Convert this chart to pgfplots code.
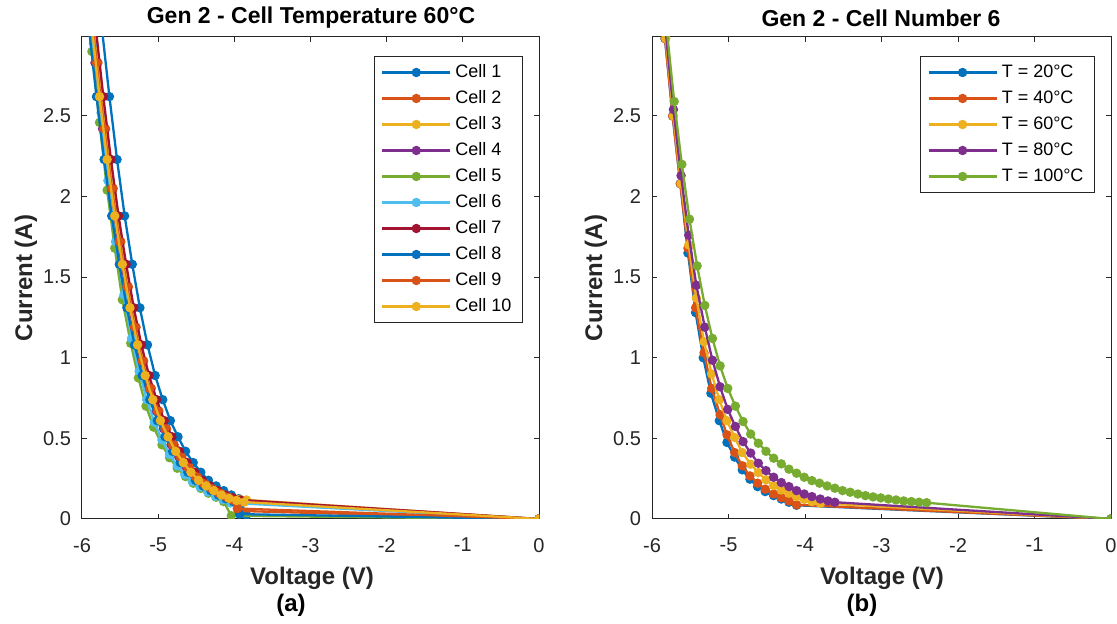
\documentclass[border=0pt]{standalone}
\usepackage{pgfplots}
\pgfplotsset{compat=1.18}
\usepackage{fontspec}
\setmainfont{Liberation Sans}

% MATLAB default line colours
\definecolor{c1}{rgb}{0,0.447,0.741}
\definecolor{c2}{rgb}{0.85,0.325,0.098}
\definecolor{c3}{rgb}{0.929,0.694,0.125}
\definecolor{c4}{rgb}{0.494,0.184,0.556}
\definecolor{c5}{rgb}{0.466,0.674,0.188}
\definecolor{c6}{rgb}{0.301,0.745,0.933}
\definecolor{c7}{rgb}{0.635,0.078,0.184}
\definecolor{axgray}{rgb}{0.15,0.15,0.15}

\pgfplotsset{
  ivaxis/.style={
    scale only axis, width=228.5pt, height=241pt,
    xmin=-6, xmax=0, ymin=0, ymax=2.99,
    xtick={-6,-5,-4,-3,-2,-1,0}, ytick={0,0.5,1,1.5,2,2.5},
    tick align=inside, major tick length=2.5pt,
    axis line style={axgray, line width=0.5pt},
    every tick/.style={axgray, line width=0.5pt},
    tick label style={font=\fontsize{10}{11}\selectfont, text=axgray},
    xticklabel style={yshift=-6pt},
    yticklabel style={xshift=-2pt},
    /pgf/number format/assume math mode=true,
    clip marker paths=true,
    every axis plot/.append style={line width=1.15pt, mark=*, mark size=1.75pt, mark options={solid}},
    legend style={font=\fontsize{9}{10}\selectfont, draw=axgray, line width=0.5pt,
      at={(1,1)}, anchor=north east, xshift=-8pt, yshift=-9.5pt,
      inner xsep=3.5pt, inner ysep=1.5pt, row sep=0pt,
      nodes={inner sep=2pt, text height=7pt, text depth=2pt}},
    legend cell align=left,
    legend image code/.code={\draw[mark repeat=2,mark phase=2,##1] plot coordinates {(0pt,0pt) (17pt,0pt) (34pt,0pt)};},
  }
}

\begin{document}
\begin{tikzpicture}
\path[use as bounding box] (-41pt,-52.5pt) rectangle (517.5pt,259.5pt);

% (a) ten cells at 60 C
\begin{axis}[ivaxis, at={(0pt,0pt)}, anchor=south west]
\addplot[c1] coordinates {(-5.84,3.50)(-5.74,3.05)(-5.64,2.62)(-5.54,2.23)(-5.44,1.88)(-5.34,1.58)(-5.24,1.31)(-5.14,1.08)(-5.04,0.89)(-4.94,0.74)(-4.84,0.61)(-4.74,0.51)(-4.64,0.42)(-4.54,0.35)(-4.44,0.29)(-4.34,0.24)(-4.24,0.205)(-4.14,0.176)(-4.04,0.149)(-3.94,0.126)(-3.84,0.025)(0,0)};
\addlegendentry{Cell 1}
\addplot[c2] coordinates {(-5.99,3.75)(-5.89,3.27)(-5.79,2.83)(-5.69,2.42)(-5.59,2.05)(-5.49,1.72)(-5.39,1.44)(-5.29,1.19)(-5.19,0.98)(-5.09,0.81)(-4.99,0.67)(-4.89,0.56)(-4.79,0.46)(-4.69,0.385)(-4.59,0.32)(-4.49,0.264)(-4.39,0.222)(-4.29,0.19)(-4.19,0.162)(-4.09,0.137)(-3.99,0.116)(-3.95,0.05)(0,0)};
\addlegendentry{Cell 2}
\addplot[c3] coordinates {(-5.93,3.50)(-5.83,3.05)(-5.73,2.62)(-5.63,2.23)(-5.53,1.88)(-5.43,1.58)(-5.33,1.31)(-5.23,1.08)(-5.13,0.89)(-5.03,0.74)(-4.93,0.61)(-4.83,0.51)(-4.73,0.42)(-4.63,0.35)(-4.53,0.29)(-4.43,0.24)(-4.33,0.205)(-4.23,0.176)(-4.13,0.149)(-4.03,0.130)(-3.93,0.122)(-3.84,0.118)(0,0)};
\addlegendentry{Cell 3}
\addplot[c4] coordinates {(-6.03,3.75)(-5.93,3.27)(-5.83,2.83)(-5.73,2.42)(-5.63,2.05)(-5.53,1.72)(-5.43,1.44)(-5.33,1.19)(-5.23,0.98)(-5.13,0.81)(-5.03,0.67)(-4.93,0.56)(-4.83,0.46)(-4.73,0.385)(-4.63,0.32)(-4.53,0.264)(-4.43,0.222)(-4.33,0.19)(-4.23,0.162)(-4.13,0.137)(-4.03,0.116)(0,0)};
\addlegendentry{Cell 4}
\addplot[c5] coordinates {(-5.97,3.40)(-5.87,2.90)(-5.77,2.46)(-5.67,2.04)(-5.57,1.68)(-5.47,1.36)(-5.36,1.09)(-5.26,0.875)(-5.16,0.70)(-5.06,0.57)(-4.95,0.46)(-4.85,0.38)(-4.75,0.315)(-4.64,0.263)(-4.54,0.222)(-4.44,0.19)(-4.34,0.16)(-4.24,0.135)(-4.14,0.108)(-4.04,0.02)(0,0)};
\addlegendentry{Cell 5}
\addplot[c6] coordinates {(-5.95,3.40)(-5.85,2.95)(-5.75,2.52)(-5.66,2.10)(-5.56,1.72)(-5.45,1.39)(-5.35,1.12)(-5.25,0.916)(-5.15,0.74)(-5.05,0.60)(-4.95,0.49)(-4.85,0.40)(-4.75,0.33)(-4.65,0.275)(-4.55,0.232)(-4.45,0.198)(-4.35,0.168)(-4.25,0.142)(-4.15,0.12)(-4.05,0.10)(0,0)};
\addlegendentry{Cell 6}
\addplot[c7] coordinates {(-5.92,3.50)(-5.82,3.05)(-5.72,2.62)(-5.62,2.23)(-5.52,1.88)(-5.42,1.58)(-5.32,1.31)(-5.22,1.08)(-5.12,0.89)(-5.02,0.74)(-4.92,0.61)(-4.82,0.51)(-4.72,0.42)(-4.62,0.35)(-4.52,0.29)(-4.42,0.24)(-4.32,0.205)(-4.22,0.176)(-4.12,0.149)(-4.02,0.132)(-3.92,0.118)(0,0)};
\addlegendentry{Cell 7}
\addplot[c1] coordinates {(-6.01,3.50)(-5.91,3.05)(-5.81,2.62)(-5.71,2.23)(-5.61,1.88)(-5.51,1.58)(-5.41,1.31)(-5.31,1.08)(-5.21,0.89)(-5.11,0.74)(-5.01,0.61)(-4.91,0.51)(-4.81,0.42)(-4.71,0.35)(-4.61,0.29)(-4.51,0.24)(-4.41,0.205)(-4.31,0.176)(-4.21,0.149)(-4.11,0.126)(-4.01,0.108)(-3.93,0.03)(0,0)};
\addlegendentry{Cell 8}
\addplot[c2] coordinates {(-6.01,3.75)(-5.91,3.27)(-5.81,2.83)(-5.71,2.42)(-5.61,2.05)(-5.51,1.72)(-5.41,1.44)(-5.31,1.19)(-5.21,0.98)(-5.11,0.81)(-5.01,0.67)(-4.91,0.56)(-4.81,0.46)(-4.71,0.385)(-4.61,0.32)(-4.51,0.264)(-4.41,0.222)(-4.31,0.19)(-4.21,0.162)(-4.11,0.137)(-4.01,0.116)(-3.96,0.065)(0,0)};
\addlegendentry{Cell 9}
\addplot[c3] coordinates {(-5.97,3.50)(-5.87,3.05)(-5.77,2.62)(-5.67,2.23)(-5.57,1.88)(-5.47,1.58)(-5.37,1.31)(-5.27,1.08)(-5.17,0.89)(-5.07,0.74)(-4.97,0.61)(-4.87,0.51)(-4.77,0.42)(-4.67,0.35)(-4.57,0.29)(-4.47,0.24)(-4.37,0.205)(-4.27,0.176)(-4.17,0.149)(-4.07,0.128)(-3.97,0.115)(-3.87,0.105)(0,0)};
\addlegendentry{Cell 10}
\end{axis}

% (b) cell 6 at five temperatures
\begin{axis}[ivaxis, at={(285pt,0pt)}, anchor=south west, width=229.5pt]
\addplot[c1] coordinates {(-5.93,3.50)(-5.83,2.98)(-5.73,2.50)(-5.63,2.08)(-5.53,1.65)(-5.43,1.28)(-5.33,1.00)(-5.23,0.78)(-5.12,0.61)(-5.02,0.475)(-4.92,0.384)(-4.82,0.305)(-4.72,0.247)(-4.62,0.201)(-4.52,0.17)(-4.41,0.145)(-4.31,0.124)(-4.21,0.104)(-4.11,0.085)(0,0)};
\addlegendentry{T = 20°C}
\addplot[c2] coordinates {(-5.93,3.50)(-5.83,2.98)(-5.73,2.50)(-5.63,2.08)(-5.53,1.68)(-5.43,1.31)(-5.32,1.03)(-5.22,0.81)(-5.11,0.647)(-5.02,0.522)(-4.92,0.412)(-4.82,0.33)(-4.72,0.267)(-4.62,0.222)(-4.52,0.185)(-4.41,0.155)(-4.31,0.132)(-4.21,0.112)(-4.11,0.088)(0,0)};
\addlegendentry{T = 40°C}
\addplot[c3] coordinates {(-5.93,3.50)(-5.82,2.98)(-5.72,2.50)(-5.62,2.08)(-5.52,1.70)(-5.42,1.37)(-5.32,1.10)(-5.22,0.90)(-5.12,0.74)(-5.02,0.61)(-4.92,0.506)(-4.82,0.412)(-4.71,0.34)(-4.61,0.288)(-4.51,0.243)(-4.41,0.207)(-4.31,0.180)(-4.21,0.160)(-4.11,0.139)(-4.01,0.122)(-3.91,0.108)(-3.80,0.098)(0,0)};
\addlegendentry{T = 60°C}
\addplot[c4] coordinates {(-5.92,3.50)(-5.82,3.02)(-5.72,2.54)(-5.62,2.13)(-5.52,1.76)(-5.42,1.45)(-5.31,1.19)(-5.21,0.985)(-5.11,0.82)(-5.01,0.68)(-4.91,0.574)(-4.81,0.48)(-4.71,0.409)(-4.61,0.346)(-4.51,0.30)(-4.41,0.259)(-4.31,0.226)(-4.21,0.201)(-4.11,0.176)(-4.01,0.155)(-3.91,0.139)(-3.80,0.124)(-3.70,0.112)(-3.61,0.104)(0,0)};
\addlegendentry{T = 80°C}
\addplot[c5] coordinates {(-5.91,3.50)(-5.81,3.05)(-5.71,2.59)(-5.61,2.20)(-5.51,1.86)(-5.41,1.57)(-5.31,1.325)(-5.21,1.12)(-5.11,0.95)(-5.01,0.81)(-4.91,0.70)(-4.81,0.605)(-4.71,0.527)(-4.61,0.47)(-4.51,0.42)(-4.41,0.377)(-4.31,0.342)(-4.21,0.309)(-4.11,0.284)(-4.01,0.259)(-3.91,0.238)(-3.81,0.222)(-3.71,0.205)(-3.61,0.191)(-3.51,0.176)(-3.41,0.166)(-3.31,0.155)(-3.21,0.145)(-3.11,0.137)(-3.01,0.131)(-2.91,0.124)(-2.81,0.118)(-2.71,0.112)(-2.61,0.108)(-2.51,0.104)(-2.41,0.101)(0,0)};
\addlegendentry{T = 100°C}
\end{axis}

% titles and axis labels
\begin{scope}[every node/.style={font=\bfseries\fontsize{11.5}{13.5}\selectfont}]
  \node at (114.5pt,250.5pt) {Gen 2 - Cell Temperature 60°C};
  \node at (399.5pt,250.5pt) {Gen 2 - Cell Number 6};
\end{scope}
\begin{scope}[every node/.style={font=\bfseries\fontsize{12}{14}\selectfont, text=axgray}]
  \node at (115pt,-29.5pt) {Voltage (V)};
  \node at (400pt,-29.5pt) {Voltage (V)};
  \node[rotate=90] at (-28pt,120.5pt) {Current (A)};
  \node[rotate=90] at (257pt,120.5pt) {Current (A)};
  \node[text=black] at (104.5pt,-43pt) {(a)};
  \node[text=black] at (390pt,-43pt) {(b)};
\end{scope}
\end{tikzpicture}
\end{document}
